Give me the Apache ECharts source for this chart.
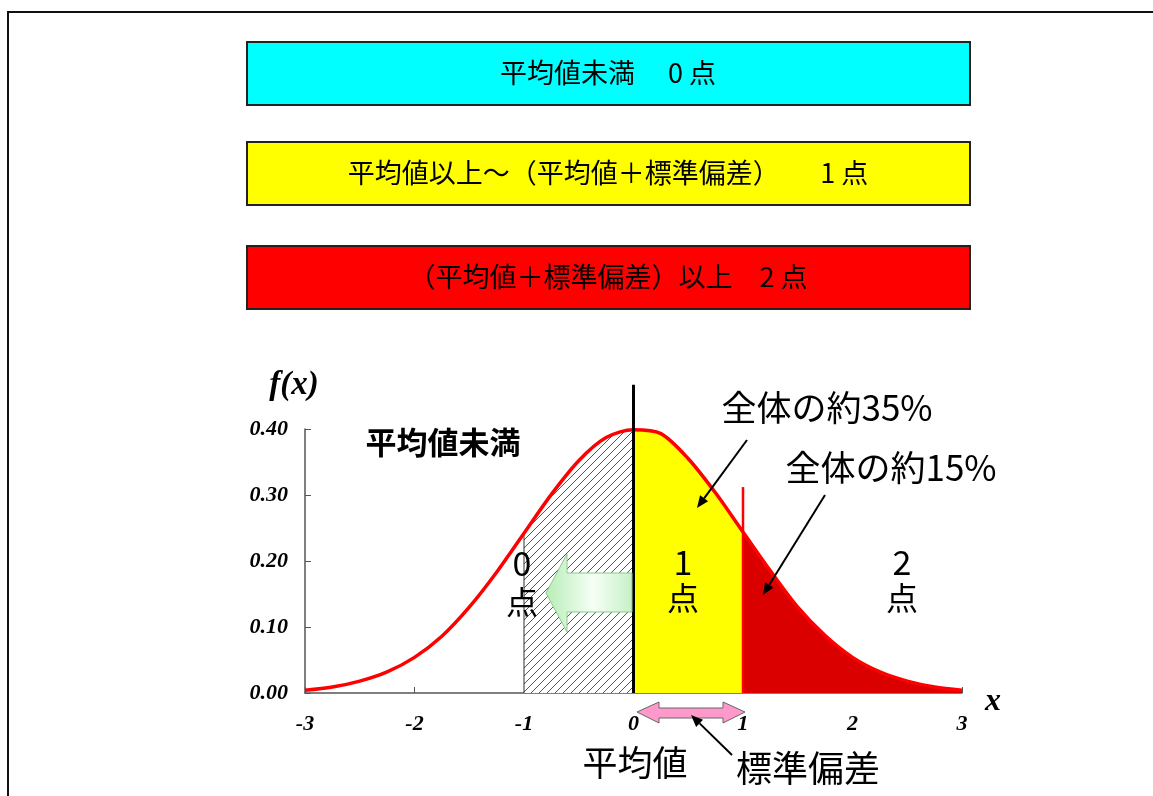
<!DOCTYPE html>
<html>
<head>
<meta charset="utf-8">
<title>平均値と標準偏差による得点</title>
<script src="https://cdn.jsdelivr.net/npm/echarts@6.0.0/dist/echarts.min.js"></script>
<style>
  html, body { margin: 0; padding: 0; background: #fff; }
  #chart { width: 1153px; height: 796px; }
</style>
</head>
<body>
<div id="chart"></div>
<script>
// values
const X_VALUES = [-3, -2.75, -2.5, -2.25, -2, -1.75, -1.5, -1.25, -1, -0.75, -0.5, -0.25,
  0, 0.25, 0.5, 0.75, 1, 1.25, 1.5, 1.75, 2, 2.25, 2.5, 2.75, 3];
const DENSITY = [0.004, 0.009, 0.018, 0.032, 0.054, 0.086, 0.130, 0.183, 0.242, 0.301, 0.352, 0.387,
  0.399, 0.393, 0.355, 0.303, 0.244, 0.185, 0.130, 0.087, 0.054, 0.032, 0.018, 0.009, 0.004];
const Y_TICKS = [0, 0.1, 0.2, 0.3, 0.4];

// score bands (x ranges)
const BAND_BELOW = [-1, 0];
const BAND_ONE = [0, 1];
const BAND_TWO = [1, 3];

// vertical guide lines: x and top value
const GUIDE_MEAN = [0, 0.467];
const GUIDE_SD = [1, 0.312];

const BOXES = [
  { text: "平均値未満　 0 点", color: "#00ffff" },
  { text: "平均値以上～（平均値＋標準偏差）　　1 点", color: "#ffff00" },
  { text: "（平均値＋標準偏差）以上　2 点", color: "#ff0000" },
];

const points = X_VALUES.map((x, i) => [x, DENSITY[i]]);
const bandPoints = (band) => points.filter((p) => p[0] >= band[0] && p[0] <= band[1]);

function hatchPattern() {
  const c = document.createElement("canvas");
  c.width = 8;
  c.height = 8;
  const ctx = c.getContext("2d");
  ctx.fillStyle = "#ffffff";
  ctx.fillRect(0, 0, 8, 8);
  ctx.strokeStyle = "#555";
  ctx.lineWidth = 1;
  ctx.beginPath();
  ctx.moveTo(0, 8); ctx.lineTo(8, 0);
  ctx.moveTo(-1, 1); ctx.lineTo(1, -1);
  ctx.moveTo(7, 9); ctx.lineTo(9, 7);
  ctx.stroke();
  return { image: c, repeat: "repeat" };
}

function arrow(x1, y1, x2, y2) {
  const a = Math.atan2(y2 - y1, x2 - x1);
  const len = 12, half = 5;
  const bx = x2 - len * Math.cos(a), by = y2 - len * Math.sin(a);
  const nx = -Math.sin(a) * half, ny = Math.cos(a) * half;
  return [
    { type: "line", z: 100, shape: { x1, y1, x2: bx, y2: by }, style: { stroke: "#000", lineWidth: 2 } },
    { type: "polygon", z: 100, shape: { points: [[x2, y2], [bx + nx, by + ny], [bx - nx, by - ny]] }, style: { fill: "#000" } },
  ];
}

function txt(x, y, text, font, opts) {
  return {
    type: "text", z: 100,
    style: Object.assign({
      x, y, text, font, fill: "#000",
      align: "center", verticalAlign: "middle",
      textAlign: "center", textVerticalAlign: "middle",
    }, opts || {}),
  };
}

const SANS = '"Noto Sans CJK JP", "Noto Sans", sans-serif';
const SERIF = '"Liberation Serif", "DejaVu Serif", serif';

const graphics = [
  // frame
  { type: "polyline", shape: { points: [[8, 796], [8, 12], [1153, 12]] }, style: { stroke: "#111", lineWidth: 2, fill: null } },
];
BOXES.forEach((b, i) => {
  const top = [42, 142, 246][i];
  graphics.push({ type: "rect", shape: { x: 247, y: top, width: 723, height: 63 }, style: { fill: b.color, stroke: "#222", lineWidth: 2 } });
  graphics.push(txt(608, top + 31, b.text, "27px " + SANS));
});

graphics.push(
  // green arrow (toward "0 点")
  {
    type: "polygon", z: 90,
    shape: { points: [[632, 573], [567, 573], [567, 554], [546, 593], [567, 632], [567, 612], [632, 612]] },
    style: {
      stroke: "#8cc98c", lineWidth: 1,
      fill: { type: "linear", x: 0, y: 0, x2: 1, y2: 0, colorStops: [
        { offset: 0, color: "#b6eeb6" }, { offset: 0.55, color: "#f6fff6" }, { offset: 1, color: "#c6f0c6" } ] },
    },
  },
  // pink double arrow (1 SD)
  {
    type: "polygon", z: 90,
    shape: { points: [[637, 712], [659, 702], [659, 708], [723, 708], [723, 702], [745, 712], [723, 723], [723, 718], [659, 718], [659, 723]] },
    style: { fill: "#ff99cc", stroke: "#666", lineWidth: 1 },
  },
  ...arrow(747, 440, 697, 508),
  ...arrow(825, 495, 763, 595),
  ...arrow(732, 755, 691, 715),
  txt(294, 385, "f(x)", "italic bold 33px " + SERIF),
  txt(993, 702, "x", "italic bold 32px " + SERIF),
  txt(443, 442, "平均値未満", "bold 31px " + SANS),
  txt(827, 408, "全体の約35%", "35px " + SANS),
  txt(891, 468, "全体の約15%", "35px " + SANS),
  txt(522, 563, "0", "34px " + SANS),
  txt(522, 602, "点", "32px " + SANS),
  txt(683, 562, "1", "34px " + SANS),
  txt(683, 598, "点", "32px " + SANS),
  txt(902, 562, "2", "34px " + SANS),
  txt(902, 598, "点", "32px " + SANS),
  txt(635, 763, "平均値", "35px " + SANS),
  txt(808, 768, "標準偏差", "36px " + SANS),
);

const chart = echarts.init(document.getElementById("chart"), null, { renderer: "canvas" });

const axisLabel = { color: "#000", fontFamily: SERIF, fontStyle: "italic", fontWeight: "bold", fontSize: 22 };

chart.setOption({
  animation: false,
  backgroundColor: "#fff",
  grid: { left: 305, right: 191, top: 429, bottom: 103 },
  xAxis: {
    type: "value", min: -3, max: 3, interval: 1,
    splitLine: { show: false },
    axisLine: { onZero: false, lineStyle: { color: "#555", width: 1.5 } },
    axisTick: { inside: true, length: 6, lineStyle: { color: "#555" } },
    axisLabel: Object.assign({ margin: 20 }, axisLabel),
  },
  yAxis: {
    type: "value", min: Y_TICKS[0], max: Y_TICKS[Y_TICKS.length - 1], interval: 0.1,
    splitLine: { show: false },
    axisLine: { show: true, onZero: false, lineStyle: { color: "#555", width: 1.5 } },
    axisTick: { show: true, inside: true, length: 6, lineStyle: { color: "#555" } },
    axisLabel: Object.assign({ margin: 17, formatter: (v) => v.toFixed(2) }, axisLabel),
  },
  series: [
    {
      type: "line", data: bandPoints(BAND_BELOW), symbol: "none", smooth: 0.3, z: 2,
      lineStyle: { width: 0 }, areaStyle: { color: hatchPattern(), opacity: 1 },
    },
    {
      type: "line", data: bandPoints(BAND_ONE), symbol: "none", smooth: 0.3, z: 2,
      lineStyle: { width: 0 }, areaStyle: { color: "#ffff00", opacity: 1 },
    },
    {
      type: "line", data: bandPoints(BAND_TWO), symbol: "none", smooth: 0.3, z: 2,
      lineStyle: { width: 0 }, areaStyle: { color: "#da0000", opacity: 1 },
    },
    {
      type: "line", data: [[BAND_BELOW[0], 0], [BAND_BELOW[0], DENSITY[X_VALUES.indexOf(BAND_BELOW[0])]]],
      symbol: "none", z: 3, lineStyle: { color: "#333", width: 1 },
    },
    {
      type: "line", data: points, symbol: "none", smooth: 0.3, z: 4,
      lineStyle: { color: "#ff0000", width: 3.5 },
    },
    {
      type: "line", data: [[GUIDE_SD[0], 0], [GUIDE_SD[0], GUIDE_SD[1]]], clip: false,
      symbol: "none", z: 5, lineStyle: { color: "#ff0000", width: 2.5 },
    },
    {
      type: "line", data: [[GUIDE_MEAN[0], 0], [GUIDE_MEAN[0], GUIDE_MEAN[1]]], clip: false,
      symbol: "none", z: 6, lineStyle: { color: "#000", width: 3 },
    },
  ],
  graphic: graphics,
});
</script>
</body>
</html>
